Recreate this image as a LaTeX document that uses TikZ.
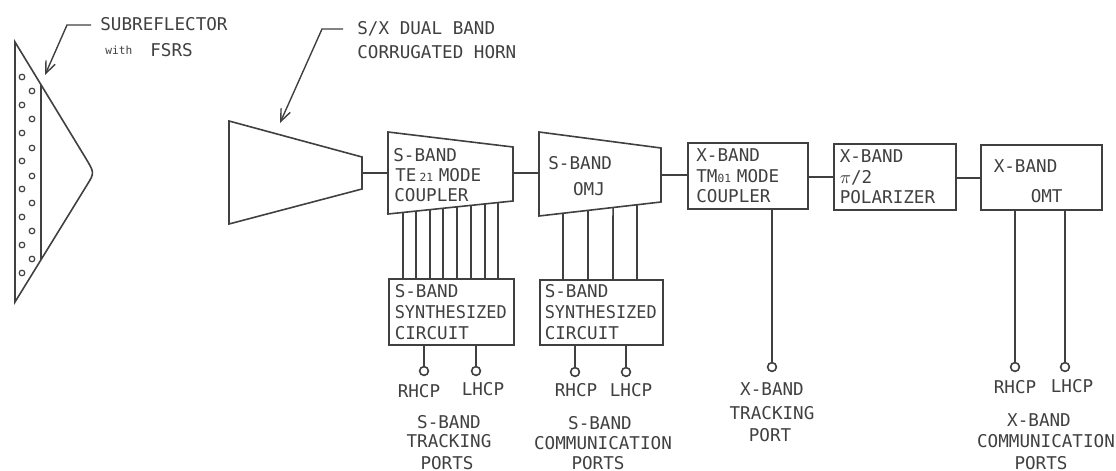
\documentclass[tikz,border=0pt]{standalone}
\usepackage{fontspec}
\setmainfont{DejaVu Sans Mono}
\usetikzlibrary{arrows.meta,calc}
\definecolor{ink}{gray}{0.25}
\newcommand{\tinytxt}[1]{{\fontsize{5.6}{6}\selectfont #1}}
\tikzset{
  ln/.style={draw=ink,line width=0.8pt},
  txt/.style={text=ink,font=\fontsize{8.8}{10.4}\selectfont,inner sep=0pt},
  lab/.style={txt,anchor=west},
  clab/.style={txt,anchor=center},
  blk/.style={ln,txt,align=left,inner ysep=0pt,anchor=north west},
  port/.style={circle,ln,minimum size=4.4pt,inner sep=0pt},
  hole/.style={circle,ln,line width=0.6pt,minimum size=2.8pt,inner sep=0pt},
  lead/.style={ln,line width=0.7pt,-{Straight Barb[length=6pt,width=5pt]}}
}
\begin{document}
\begin{tikzpicture}[x=0.5pt,y=-0.5pt]
\useasboundingbox (0,0) rectangle (1116,471);
% subreflector
\coordinate (sa) at (15,42);
\coordinate (sb) at (85,157);
\coordinate (st) at (94.6,172.8);
\coordinate (sc) at (87,185);
\coordinate (sd) at (15,302);
\coordinate (si) at (41,85);
\coordinate (sj) at (41,260);
\draw[ln] (sa) -- (sb) .. controls (st) .. (sc) -- (sd) -- cycle;
\draw[ln] (si) -- (sj);
\foreach \n/\y in {a/77,b/105,c/133,d/161,e/189,f/217,g/245,h/273}
  \node[hole] (hl\n) at (22,\y) {};
\foreach \n/\y in {a/91,b/119,c/148,d/176,e/203,f/231,g/259}
  \node[hole] (hr\n) at (32,\y) {};
\node[lab] (tsub) at (100,24) {SUBREFLECTOR};
\node[lab] (twith) at (105,50) {\tinytxt{with}};
\node[lab] (tfsrs) at (150,50) {FSRS};
\coordinate (l1a) at (91,25);
\coordinate (l1b) at (67,25);
\coordinate (l1c) at (45,75);
\draw[lead] (l1a) -- (l1b) -- (l1c);
% horn
\coordinate (ha) at (229,121);
\coordinate (hb) at (362,157);
\coordinate (hc) at (362,189);
\coordinate (hd) at (229,224);
\draw[ln] (ha) -- (hb) -- (hc) -- (hd) -- cycle;
\node[lab] (thorna) at (357,29) {S/X DUAL BAND};
\node[lab] (thornb) at (357,52) {CORRUGATED HORN};
\coordinate (l2a) at (343,29);
\coordinate (l2b) at (322,29);
\coordinate (l2c) at (280,123);
\draw[lead] (l2a) -- (l2b) -- (l2c);
% TE21 coupler
\coordinate (ca) at (388,132);
\coordinate (cb) at (513,147);
\coordinate (cc) at (513,201);
\coordinate (cd) at (388,214);
\draw[ln] (ca) -- (cb) -- (cc) -- (cd) -- cycle;
\node[lab] (tca) at (393,155) {S-BAND};
\node[lab] (tcb) at (395,175) {TE\,\tinytxt{21}\,\,MODE};
\node[lab] (tcc) at (394,195) {COUPLER};
% OMJ
\coordinate (oa) at (539,132);
\coordinate (ob) at (661,148);
\coordinate (oc) at (661,202);
\coordinate (od) at (539,216);
\draw[ln] (oa) -- (ob) -- (oc) -- (od) -- cycle;
\node[lab] (toa) at (548,163) {S-BAND};
\node[clab] (tob) at (589,189) {OMJ};
% rectangular blocks
\node[blk,text width=51.4pt,inner xsep=4.3pt,minimum height=33pt] (xc) at (687,142)
  {X-BAND\\TM\tinytxt{01}\,\,MODE\\COUPLER};
\node[blk,text width=55pt,inner xsep=3pt,minimum height=33pt] (pol) at (833,143)
  {X-BAND\\$\pi$/2\\POLARIZER};
\node[blk,text width=47.5pt,inner xsep=6.5pt,minimum height=32.5pt] (omt) at (980,144)
  {\rule{0pt}{10pt}X-BAND\\[4.6pt]\hspace*{18.5pt}OMT};
\node[blk,text width=56.5pt,inner xsep=3pt,minimum height=33pt] (sa1) at (388,278)
  {S-BAND\\\scalebox{0.96}[1]{SYNTHESIZED}\\CIRCUIT};
\node[blk,text width=56.5pt,inner xsep=2.5pt,minimum height=32.5pt] (sa2) at (539,279)
  {S-BAND\\\scalebox{0.96}[1]{SYNTHESIZED}\\CIRCUIT};
% through line
\coordinate (h1) at (362,173);
\coordinate (c1) at (388,173);
\coordinate (c2) at (513,173);
\coordinate (o1) at (539,173);
\coordinate (o2) at (661,175);
\draw[ln] (h1) -- (c1);
\draw[ln] (c2) -- (o1);
\draw[ln] (o2) -- (o2 -| xc.west);
\draw[ln] (xc.east |- 0,177) -- (pol.west |- 0,177);
\draw[ln] (pol.east |- 0,178) -- (omt.west |- 0,178);
% coupler to synthesized circuit
\foreach \x/\f in {403/0.12,416/0.224,430/0.336,443/0.44,457/0.552,471/0.664,485/0.776,498/0.88}
  \draw[ln] ($(cd)!\f!(cc)$) -- (\x,278);
\foreach \x/\f in {563/0.197,588/0.402,613/0.607,637/0.803}
  \draw[ln] ($(od)!\f!(oc)$) -- (\x,279);
% ports
\node[port] (p1) at (424,371) {};
\node[port] (p2) at (476,371) {};
\node[port] (p3) at (575,372) {};
\node[port] (p4) at (626,372) {};
\node[port] (p5) at (772,367) {};
\node[port] (p6) at (1015,367) {};
\node[port] (p7) at (1065,367) {};
\draw[ln] (sa1.south -| p1) -- (p1);
\draw[ln] (sa1.south -| p2) -- (p2);
\draw[ln] (sa2.south -| p3) -- (p3);
\draw[ln] (sa2.south -| p4) -- (p4);
\draw[ln] (xc.south -| p5) -- (p5);
\draw[ln] (omt.south -| p6) -- (p6);
\draw[ln] (omt.south -| p7) -- (p7);
% port labels
\node[clab] (r1) at (419,391) {RHCP};
\node[clab] (l1) at (483,389) {LHCP};
\node[clab] (r2) at (576,390) {RHCP};
\node[clab] (l2) at (631,390) {LHCP};
\node[clab] (r3) at (1015,387) {RHCP};
\node[clab] (l3) at (1072,386) {LHCP};
\node[clab] (g1a) at (449,422) {S-BAND};
\node[clab] (g1b) at (449,441) {TRACKING};
\node[clab] (g1c) at (447,463) {PORTS};
\node[clab] (g2a) at (600,423) {S-BAND};
\node[clab] (g2b) at (603,443) {COMMUNICATION};
\node[clab] (g2c) at (598,463) {PORTS};
\node[clab] (g3a) at (772,389) {X-BAND};
\node[clab] (g3b) at (772,413) {TRACKING};
\node[clab] (g3c) at (770,435) {PORT};
\node[clab] (g4a) at (1039,420) {X-BAND};
\node[clab] (g4b) at (1046,441) {COMMUNICATION};
\node[clab] (g4c) at (1041,463) {PORTS};
\end{tikzpicture}
\end{document}
